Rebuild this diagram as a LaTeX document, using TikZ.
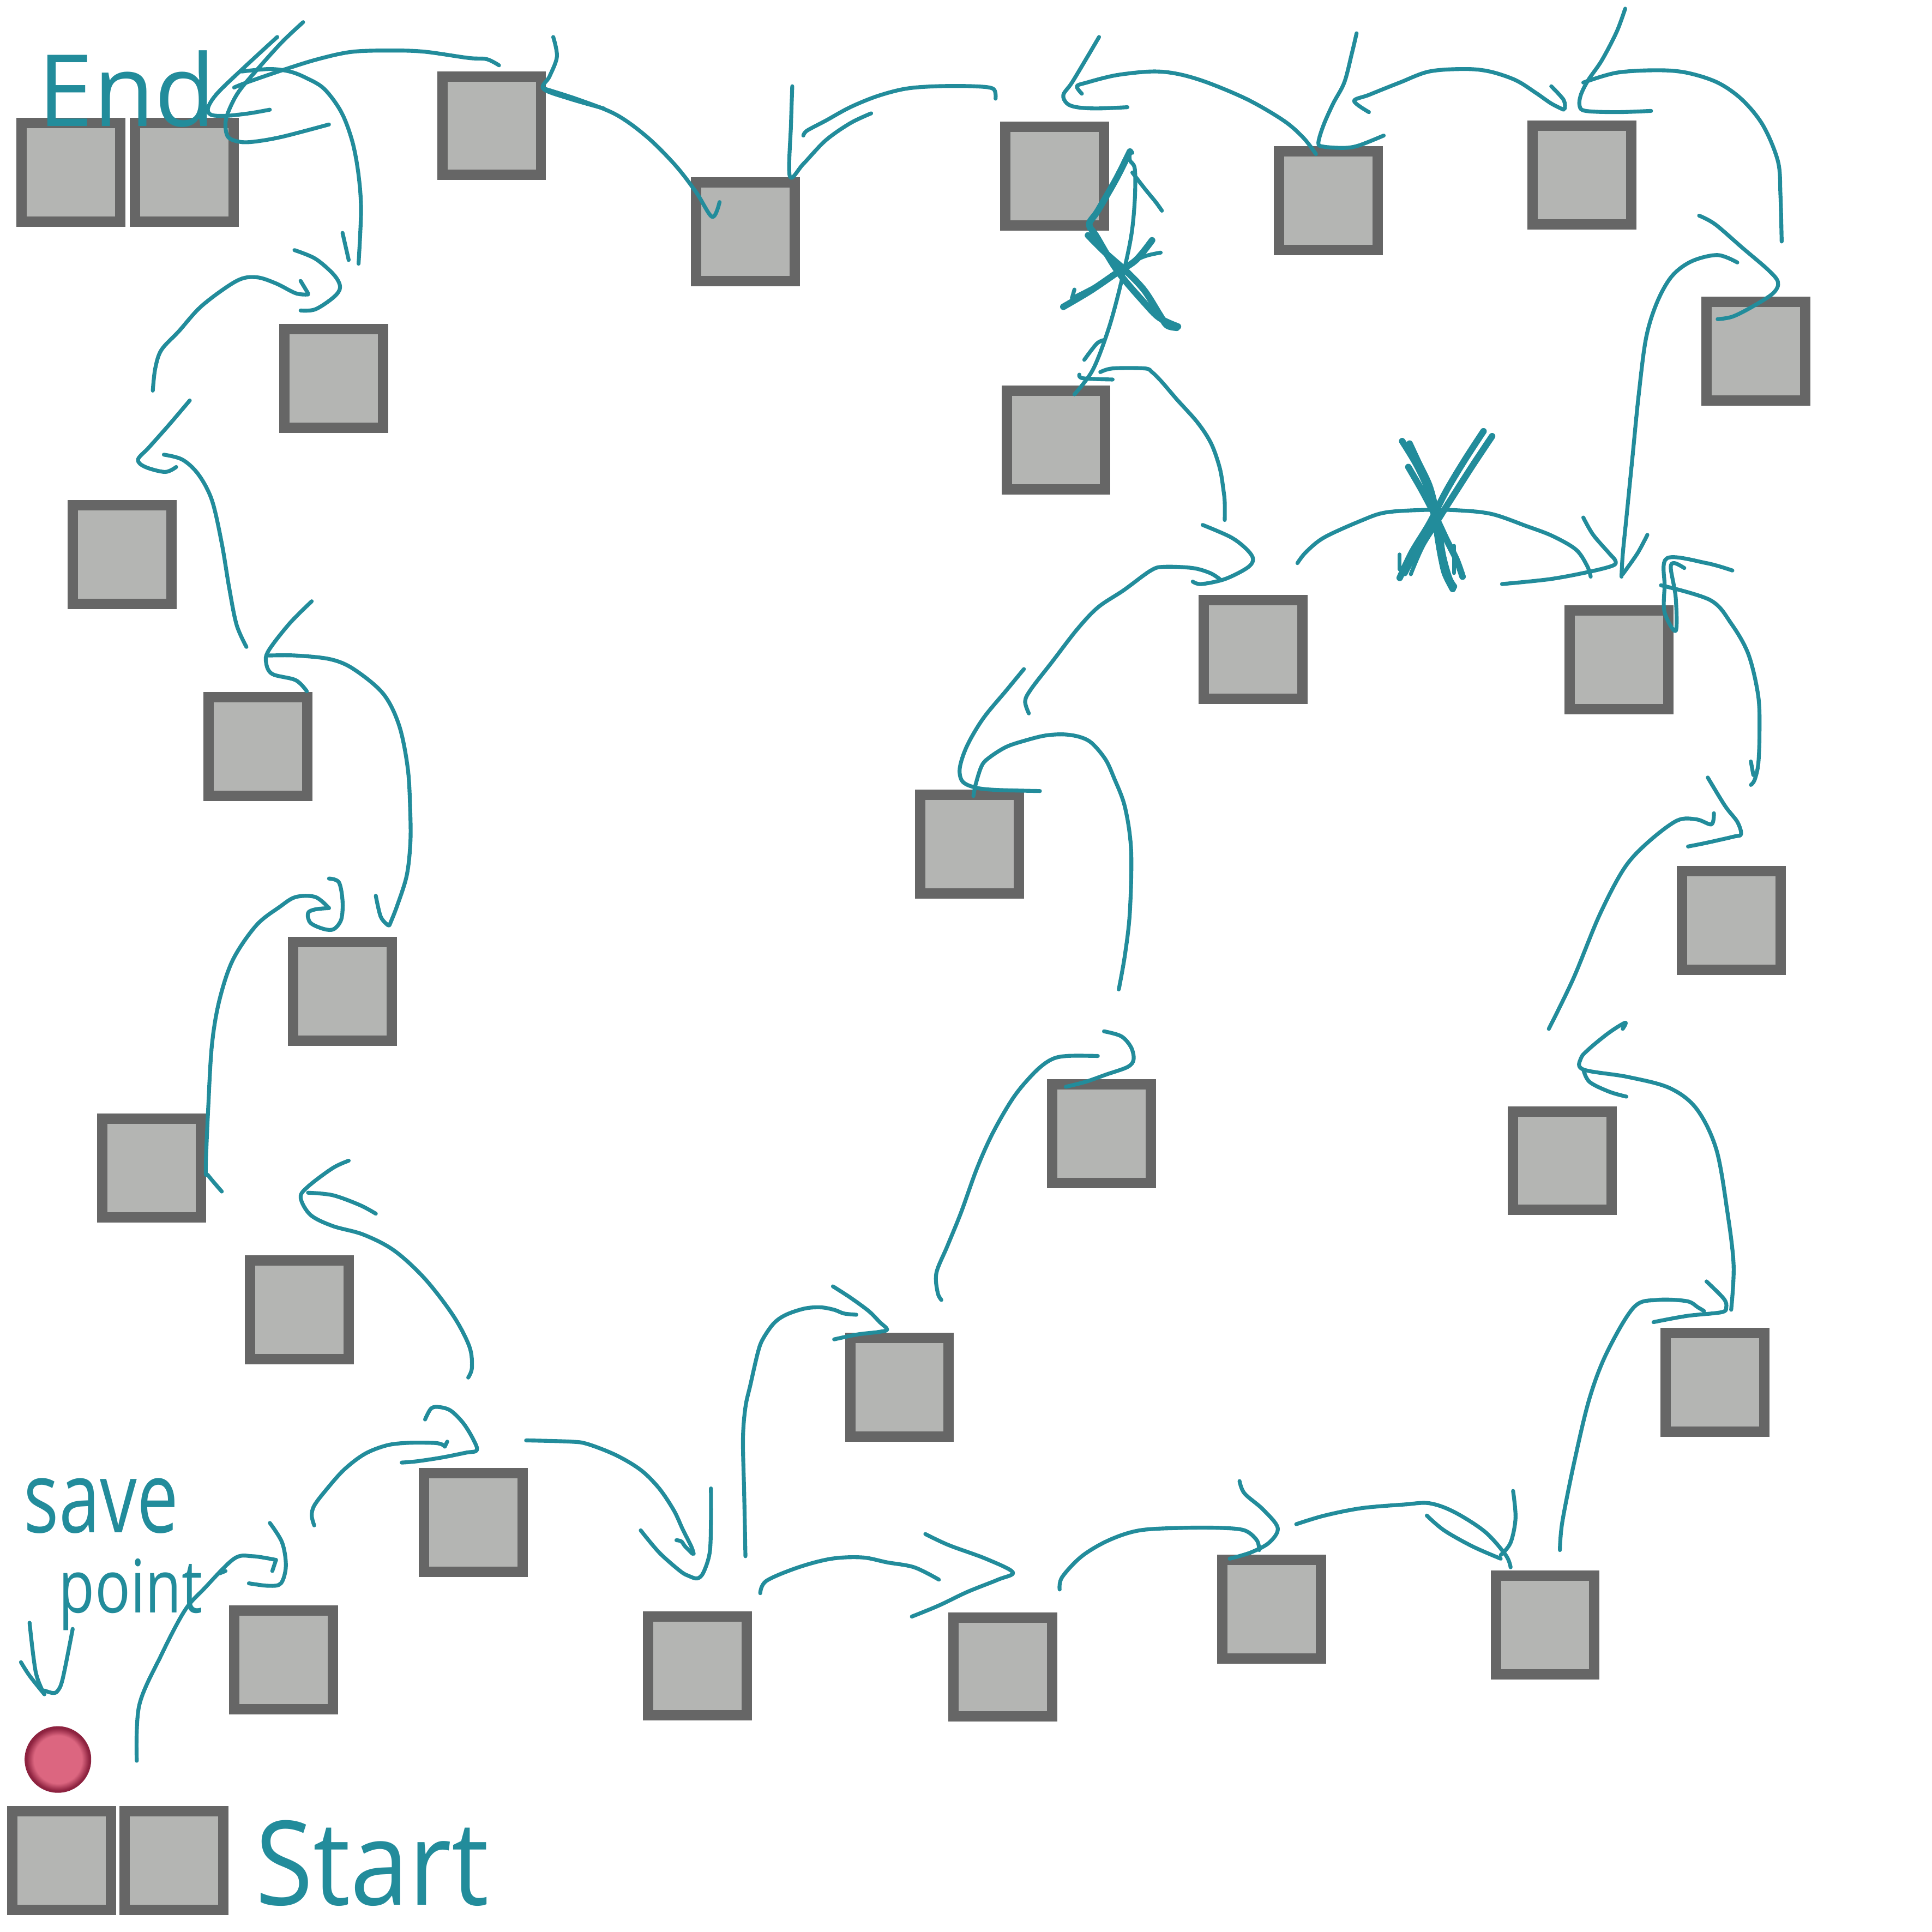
\documentclass[tikz,border=0pt]{standalone}
\usepackage{fontspec}
\setmainfont{Open Sans}
\definecolor{ink}{HTML}{228C9B}
\definecolor{boxline}{HTML}{666666}
\definecolor{boxfill}{HTML}{B4B5B3}
\definecolor{ballin}{HTML}{DC6680}
\definecolor{ballout}{HTML}{8E2340}
\pgfdeclareradialshading{savept}{\pgfpoint{0bp}{0bp}}{color(0bp)=(ballin); color(18bp)=(ballin); color(23.5bp)=(ballout); color(25bp)=(ballout); color(50bp)=(ballout)}
\newcommand{\hs}[2][]{\draw[inkline,#1] plot[smooth,tension=0.55] coordinates {#2};}
\begin{document}
\begin{tikzpicture}[x=0.01cm,y=-0.01cm,
  tile/.style={draw=boxline,fill=boxfill,line width=0.084cm,minimum size=0.80cm,inner sep=0pt,outer sep=0pt},
  inkline/.style={draw=ink,line width=0.9pt,line cap=round,line join=round},
  heavy/.style={line width=1.5pt},
  hand/.style={text=ink,inner sep=0pt,anchor=center}]
\fill[white] (0,0) rectangle (1568,1568);
\useasboundingbox (0,0) rectangle (1568,1568);
% tiles
\node[tile] (e1) at (57.5,140) {};
\node[tile] (e2) at (149.5,140) {};
\node[tile] (t3) at (399,102) {};
\node[tile] (t4) at (605,188) {};
\node[tile] (t5) at (856,143) {};
\node[tile] (t6) at (1078,163) {};
\node[tile] (t7) at (1284,142) {};
\node[tile] (t8) at (1425,285) {};
\node[tile] (t9) at (857,357) {};
\node[tile] (t10) at (271,307) {};
\node[tile] (t11) at (99,450) {};
\node[tile] (t12) at (209.5,606) {};
\node[tile] (t13) at (1017,527) {};
\node[tile] (t14) at (1314,535.5) {};
\node[tile] (t15) at (787,685) {};
\node[tile] (t16) at (278,804.5) {};
\node[tile] (t17) at (1405,747) {};
\node[tile] (t18) at (894,920) {};
\node[tile] (t19) at (123,948) {};
\node[tile] (t20) at (1268,942) {};
\node[tile] (t21) at (243,1063) {};
\node[tile] (t22) at (730,1126) {};
\node[tile] (t23) at (1392,1122) {};
\node[tile] (t24) at (384,1235.5) {};
\node[tile] (t25) at (230,1347) {};
\node[tile] (t26) at (566,1352) {};
\node[tile] (t27) at (814,1353) {};
\node[tile] (t28) at (1032,1306) {};
\node[tile] (t29) at (1254,1319) {};
\node[tile] (s1) at (50,1510) {};
\node[tile] (s2) at (141,1510) {};
% save point ball
\shade[shading=savept] (47,1428) circle (0.27cm);
% texts
\node[hand,font=\fontsize{23}{26}\selectfont] (endtxt) at (103,72) {End};
\node[hand,font=\fontsize{27}{30}\selectfont] (starttxt) at (302,1512) {\scalebox{0.9}[1]{Start}};
\node[hand,font=\fontsize{23}{25}\selectfont] (savetxt) at (82,1222) {\scalebox{0.74}[1]{save}};
\node[hand,font=\fontsize{17}{19}\selectfont] (pointtxt) at (106,1294) {\scalebox{0.8}[1]{point}};
% save point arrow
\hs{(24,1317)(29,1357)(36,1375)}
\hs{(59,1322)(51,1362)(47,1372)(43,1374)(36,1372)}
\hs{(17,1349)(24,1360)(36,1375)}
% start to tile 25
\hs{(111,1429)(113,1384)(131,1343)(150,1307)(166,1289)(190,1265)(205,1263)(224,1266)}
\hs{(224,1266)(221,1275)}
\hs{(219,1236)(229,1252)(232,1271)(228,1285)(218,1287)(202,1285)}
\hs{(178,1277)(183,1275)}
% tile 25 to tile 24
\hs{(255,1238)(253,1230)(255,1222)(264,1210)(279,1193)(296,1180)(314,1173)(331,1171)(351,1171)(358,1172)(361,1174)}
\hs{(361,1174)(363,1170)}
\hs{(345,1152)(350,1143)(357,1142)(366,1145)(376,1155)(384,1168)(387,1177)(378,1179)(358,1183)(338,1186)(326,1187)}
% tile 24 to tile 26
\hs{(427,1169)(463,1170)(477,1172)(500,1181)(520,1193)(535,1208)(547,1226)(554,1241)(561,1255)(563,1261)}
\hs{(549,1250)(553,1251)(556,1255)(562,1261)}
\hs{(520,1242)(535,1260)(552,1275)(559,1279)(566,1281)(571,1276)(576,1260)(577,1235)(577,1208)}
% tile 26 to tile 22
\hs{(605,1263)(604,1213)(603,1168)(605,1142)(609,1124)(615,1098)(619,1087)(628,1074)(638,1067)(653,1062)(666,1061)(677,1063)(685,1066)(695,1067)}
\hs{(676,1044)(690,1053)(705,1064)(714,1073)(720,1079)(713,1081)(696,1083)(677,1087)}
% tile 22 to tile 18
\hs{(764,1055)(761,1049)(760,1033)(769,1011)(780,984)(793,948)(806,919)(823,890)(840,870)(853,860)(866,857)(891,857)}
\hs{(896,837)(910,841)(918,850)(920,860)(915,866)(898,872)(881,878)(865,882)}
% tile 18 to tile 15
\hs{(908,803)(913,775)(917,740)(918,690)(913,655)(904,631)(897,616)(886,603)(876,598)(863,596)(848,597)(832,601)(817,606)(804,614)(797,621)(792,636)(790,646)}
\hs{(831,543)(817,560)(798,583)(785,605)(779,623)(781,634)(791,639)(807,641)(844,642)}
% tile 15 to tile 13
\hs{(835,579)(832,569)(837,559)(854,537)(874,511)(891,493)(912,479)(934,463)(945,460)(968,461)(982,465)(990,470)}
\hs{(976,426)(999,436)(1012,446)(1017,454)(1012,461)(994,470)(975,474)(968,472)}
% tile 13 to tile 9
\hs{(994,422)(994,408)(993,398)(990,380)(983,360)(972,343)(955,324)(943,310)(935,302)(929,299)(903,299)(893,302)}
\hs{(876,304)(879,307)(903,308)}
% tile 9 to tile 5 (crossed out)
\hs{(872,320)(887,300)(900,266)(910,229)(918,192)(921,162)(921,137)(917,130)(917,122)(919,124)}
\hs{(880,292)(890,279)(896,276)}
\hs[heavy]{(917,123)(906,145)(891,171)(884,182)(890,192)(907,220)(929,246)(941,258)(956,265)}
\hs[heavy]{(883,191)(897,205)(915,221)(929,236)(941,255)(947,264)(955,266)}
\hs{(919,140)(929,153)(938,164)(943,171)}
\hs[heavy]{(863,249)(885,236)(907,221)(922,211)(935,195)}
\hs{(870,242)(893,230)(915,215)(929,208)(942,205)}
\hs{(872,235)(870,242)}
% tile 13 to tile 14 (crossed out)
\hs{(1053,457)(1060,448)(1075,436)(1106,422)(1124,416)(1151,414)(1180,414)(1210,417)(1239,427)(1260,435)(1279,446)(1288,459)(1291,468)}
\hs[heavy]{(1138,358)(1149,376)(1158,395)(1164,416)(1167,437)(1170,454)(1173,466)(1179,478)}
\hs[heavy]{(1144,360)(1151,375)(1160,394)(1165,413)(1168,431)(1171,451)(1176,469)(1180,476)}
\hs[heavy]{(1143,379)(1154,398)(1165,419)(1174,438)(1182,454)(1187,468)}
\hs[heavy]{(1204,350)(1189,373)(1174,398)(1160,425)(1146,448)(1136,469)}
\hs[heavy]{(1211,354)(1195,378)(1179,403)(1163,428)(1146,454)(1140,465)}
\hs{(1202,367)(1186,392)(1170,419)(1155,443)(1145,466)}
\hs{(1136,450)(1136,462)}
\hs{(1180,443)(1180,465)}
% arrow into tile 14 from left
\hs{(1219,474)(1258,470)(1290,464)(1309,459)(1311,455)(1306,449)(1293,434)(1285,420)}
% tile 17 to tile 14
\hs{(1406,463)(1385,457)(1353,453)(1351,476)(1351,497)(1360,512)(1360,485)(1356,461)(1359,457)(1367,461)}
\hs{(1348,475)(1388,487)(1405,506)(1419,531)(1427,565)(1428,595)(1427,620)(1424,633)(1421,637)}
\hs{(1421,618)(1423,629)}
% tile 20 to tile 17
\hs{(1257,835)(1277,794)(1298,743)(1318,705)(1337,684)(1361,666)(1377,665)(1389,669)(1391,660)}
\hs{(1386,631)(1400,654)(1410,667)(1413,677)(1407,679)(1385,684)(1370,687)}
% tile 23 to tile 20
\hs{(1405,1063)(1407,1027)(1402,984)(1393,933)(1377,900)(1355,883)(1321,874)(1285,868)(1283,859)(1290,851)(1306,838)(1319,830)(1317,835)}
\hs{(1285,868)(1290,878)(1306,886)(1320,890)}
% tile 29 to tile 23
\hs{(1266,1258)(1268,1235)(1278,1185)(1290,1135)(1304,1098)(1326,1061)(1345,1055)(1369,1056)(1378,1061)(1383,1064)}
\hs{(1385,1040)(1399,1054)(1401,1061)(1397,1065)(1369,1068)(1342,1073)}
% bottom row
\hs{(617,1293)(622,1283)(648,1272)(675,1265)(700,1264)(720,1268)(742,1272)(762,1282)}
\hs{(751,1245)(770,1254)(800,1265)(822,1276)(810,1282)(785,1292)(762,1303)(740,1312)}
\hs{(860,1290)(862,1280)(878,1263)(900,1250)(925,1242)(960,1240)(990,1240)(1010,1242)(1020,1250)(1022,1258)}
\hs{(1006,1202)(1010,1212)(1025,1225)(1037,1240)(1030,1252)(1015,1260)(998,1265)}
\hs{(1052,1237)(1075,1230)(1105,1224)(1140,1221)(1160,1220)(1180,1227)(1205,1243)(1222,1262)(1226,1272)}
\hs{(1158,1230)(1172,1242)(1195,1255)(1218,1265)}
\hs{(1228,1210)(1230,1232)(1226,1252)(1218,1262)}
% tile 14 to tile 8
\hs{(1410,213)(1394,207)(1373,212)(1357,224)(1345,245)(1336,274)(1330,320)(1325,370)(1320,420)(1317,450)(1316,468)}
\hs{(1317,466)(1329,449)(1337,434)}
% tile 8 to tile 7
\hs{(1379,175)(1392,182)(1414,201)(1435,219)(1443,229)(1439,238)(1422,249)(1406,257)(1394,259)}
\hs{(1285,67)(1312,59)(1345,57)(1369,59)(1394,67)(1414,81)(1431,102)(1443,131)(1445,158)(1446,196)}
\hs{(1319,7)(1312,26)(1300,49)(1289,65)(1283,77)(1282,86)(1287,90)(1312,91)(1340,90)}
% tile 7 to tile 6
\hs{(1111,91)(1099,82)(1111,77)(1136,67)(1160,58)(1189,56)(1209,58)(1230,65)(1246,75)(1259,84)(1269,89)}
\hs{(1259,70)(1269,81)(1270,88)}
\hs{(1101,27)(1097,44)(1091,67)(1082,84)(1074,102)(1070,116)(1074,119)(1091,120)(1103,118)(1123,110)}
% tile 6 to tile 5
\hs{(878,76)(874,70)(882,67)(906,61)(935,58)(956,60)(980,67)(1013,81)(1042,98)(1058,112)(1068,125)}
\hs{(892,30)(882,47)(870,67)(863,77)(866,84)(874,87)(890,88)(915,87)}
% tile 5 to tile 4
\hs{(808,80)(806,72)(790,70)(760,70)(735,72)(712,78)(690,87)(670,98)(655,106)(652,110)}
\hs{(643,70)(642,100)(641,143)(652,133)(670,114)(690,100)(707,92)}
% tile 4 to tile 3
\hs{(442,72)(470,81)(500,93)(525,111)(548,134)(565,156)(578,176)(584,164)}
\hs{(449,30)(452,46)(446,62)(441,72)(462,80)(490,88)}
% tile 3 to end
\hs{(405,53)(395,48)(380,47)(345,42)(319,41)(286,42)(258,48)(229,57)(200,67)(190,71)}
\hs{(225,30)(200,53)(177,75)(169,87)(171,93)(183,94)(202,92)(219,89)}
\hs{(246,18)(229,34)(210,55)(194,74)(186,89)(183,100)(185,111)(194,115)(206,115)(229,111)(267,101)}
% end to tile 10
\hs{(196,58)(219,56)(235,58)(248,63)(263,72)(277,91)(286,115)(291,142)(293,171)(291,214)}
\hs{(278,189)(283,211)}
% tile 10 / tile 11
\hs{(124,317)(126,299)(131,284)(145,269)(164,248)(192,228)(208,225)(224,230)(240,238)(250,239)}
\hs{(244,228)(250,238)}
\hs{(239,203)(256,210)(271,223)(276,233)(271,241)(256,251)(244,252)}
\hs{(154,325)(137,345)(121,363)(112,373)(118,379)(134,383)(143,379)}
\hs{(133,369)(148,373)(161,385)(172,406)(180,441)(186,477)(192,507)(200,525)}
% tile 12 / tile 16
\hs{(253,488)(235,506)(218,528)(216,538)(221,547)(240,552)(249,561)}
\hs{(218,532)(240,532)(268,535)(287,543)(311,563)(324,589)(331,624)(333,660)(333,685)(330,711)(322,736)(316,751)}
\hs{(305,727)(309,744)(315,751)}
% tile 16 / tile 19
\hs{(267,737)(256,728)(240,728)(227,736)(208,751)(189,779)(178,812)(172,848)(169,899)(167,949)(169,954)(180,967)}
\hs{(267,713)(275,716)(278,731)(277,746)(271,754)(263,754)(252,749)(250,741)(256,738)(267,737)}
% tile 21 / tile 24
\hs{(283,942)(270,948)(250,963)(244,972)(252,986)(270,995)(295,1002)(320,1015)(345,1038)(368,1068)(381,1093)(383,1110)(380,1118)}
\hs{(250,968)(270,970)(292,978)(305,985)}
\end{tikzpicture}
\end{document}
